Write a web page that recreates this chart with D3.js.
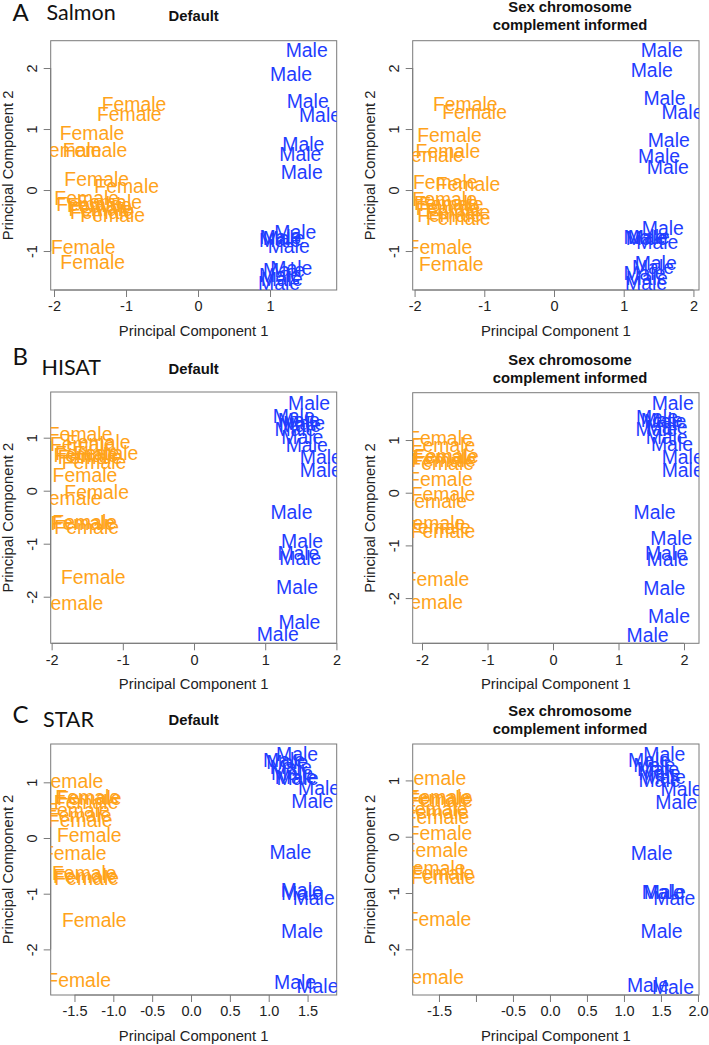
<!DOCTYPE html>
<html>
<head>
<meta charset="utf-8">
<script src="https://cdn.jsdelivr.net/npm/d3@7"></script>
<style>
  html, body { margin: 0; padding: 0; background: #ffffff; }
  svg { display: block; }
</style>
</head>
<body>
<script>
// ---------------- DATA (PC1, PC2) ----------------
const salmonDefFemale = [[-0.889,1.404],[-0.954,1.246],[-1.472,0.940],[-1.787,0.656],[-1.430,0.656],[-1.407,0.180],[-0.991,0.066],[-1.546,-0.137],[-1.227,-0.190],[-1.370,-0.246],[-1.520,-0.230],[-1.350,-0.317],[-1.185,-0.415],[-1.330,-0.355],[-1.593,-0.929],[-1.463,-1.186]];
const salmonDefMale = [[1.509,2.295],[1.292,1.900],[1.523,1.464],[1.694,1.230],[1.463,0.754],[1.421,0.590],[1.440,0.300],[1.352,-0.683],[1.144,-0.776],[1.190,-0.790],[1.259,-0.918],[1.140,-0.820],[1.296,-1.273],[1.194,-1.311],[1.140,-1.393],[1.162,-1.464],[1.125,-1.519]];
const salmonSexFemale = [[-1.273,1.404],[-1.139,1.273],[-1.498,0.902],[-1.522,0.645],[-1.756,0.574],[-1.560,0.136],[-1.234,0.098],[-1.569,-0.147],[-1.545,-0.207],[-1.474,-0.230],[-1.378,-0.355],[-1.498,-0.410],[-1.373,-0.464],[-1.520,-0.300],[-1.636,-0.929],[-1.474,-1.219]];
const salmonSexMale = [[1.545,2.295],[1.402,1.967],[1.584,1.514],[1.842,1.273],[1.646,0.820],[1.507,0.557],[1.632,0.383],[1.560,-0.628],[1.297,-0.765],[1.360,-0.776],[1.483,-0.847],[1.330,-0.780],[1.459,-1.202],[1.420,-1.257],[1.297,-1.366],[1.330,-1.448],[1.320,-1.519]];

const hisatDefFemale = [[-1.600,1.063],[-1.344,0.925],[-1.237,0.717],[-1.499,0.717],[-1.460,0.640],[-1.405,0.547],[-1.520,0.670],[-1.570,0.890],[-1.532,0.296],[-1.368,-0.019],[-1.752,-0.145],[-1.536,-0.585],[-1.508,-0.679],[-1.560,-0.616],[-1.415,-1.635],[-1.728,-2.126]];
const hisatDefMale = [[1.616,1.660],[1.400,1.409],[1.546,1.270],[1.470,1.330],[1.424,1.164],[1.522,1.019],[1.583,0.862],[1.780,0.642],[1.780,0.390],[1.490,1.240],[1.368,-0.409],[1.518,-0.943],[1.466,-1.170],[1.494,-1.277],[1.447,-1.811],[1.480,-2.472],[1.176,-2.711]];
const hisatSexFemale = [[-1.719,1.044],[-1.679,0.905],[-1.628,0.700],[-1.700,0.557],[-1.650,0.680],[-1.670,0.620],[-1.719,0.259],[-1.679,-0.025],[-1.806,-0.152],[-1.832,-0.570],[-1.750,-0.646],[-1.679,-0.728],[-1.770,-1.646],[-1.867,-2.070]];
const hisatSexMale = [[1.827,1.709],[1.587,1.430],[1.714,1.367],[1.735,1.253],[1.582,1.203],[1.735,1.050],[1.816,0.918],[1.980,0.684],[1.980,0.430],[1.660,1.380],[1.551,-0.373],[1.806,-0.867],[1.724,-1.139],[1.750,-1.266],[1.699,-1.804],[1.770,-2.335],[1.444,-2.703]];

const starDefFemale = [[-1.545,1.024],[-1.309,0.713],[-1.330,0.740],[-1.350,0.650],[-1.438,0.413],[-1.425,0.323],[-1.460,0.500],[-1.309,0.048],[-1.502,-0.263],[-1.373,-0.623],[-1.343,-0.725],[-1.360,-0.680],[-1.245,-1.473],[-1.446,-2.551]];
const starDefMale = [[1.365,1.509],[1.197,1.401],[1.240,1.370],[1.283,1.269],[1.300,1.174],[1.348,1.102],[1.370,1.070],[1.648,0.892],[1.562,0.671],[1.279,-0.257],[1.425,-0.934],[1.579,-1.084],[1.430,-0.980],[1.429,-1.665],[1.339,-2.581],[1.627,-2.659]];
const starSexFemale = [[-1.568,1.036],[-1.486,0.710],[-1.510,0.680],[-1.477,0.651],[-1.532,0.444],[-1.527,0.355],[-1.550,0.500],[-1.486,0.059],[-1.540,-0.237],[-1.577,-0.562],[-1.441,-0.710],[-1.460,-0.650],[-1.500,-1.462],[-1.599,-2.485]];
const starSexMale = [[1.545,1.467],[1.338,1.361],[1.410,1.270],[1.459,1.195],[1.480,1.124],[1.550,1.053],[1.480,1.006],[1.779,0.846],[1.707,0.621],[1.374,-0.284],[1.523,-0.976],[1.550,-0.976],[1.680,-1.095],[1.509,-1.669],[1.324,-2.633],[1.662,-2.663]];

// tick values
const ticksInt2 = [-2, -1, 0, 1];
const ticksInt22 = [-2, -1, 0, 1, 2];
const ticksYA = [-1, 0, 1, 2];
const ticksYBC = [-2, -1, 0, 1];
const ticksXCLeft = [-1.5, -1.0, -0.5, 0.0, 0.5, 1.0, 1.5];
const ticksXCRight = [-1.5, -1.0, -0.5, 0.0, 0.5, 1.0, 1.5, 2.0];
const hiddenTickLabelsCRight = [-1.0];

// text
const rowLetters = ["A", "B", "C"];
const rowMethods = ["Salmon", "HISAT", "STAR"];
const titleLeft = "Default";
const titleRight = ["Sex chromosome", "complement informed"];
const xLabel = "Principal Component 1";
const yLabel = "Principal Component 2";
const femaleLabel = "Female";
const maleLabel = "Male";

// ---------------- LAYOUT ----------------
const W = 709, H = 1045;
const FEMALE_COL = "#ffa31a";
const MALE_COL = "#1f3dff";
const FRAME_COL = "#7a7a7a";
const FONT = "'Liberation Sans', Arial, Helvetica, sans-serif";

const panels = [
  { fem: salmonDefFemale, male: salmonDefMale, box: [50.7, 336.7, 40.7, 290], xd: [-2.046, 1.926], yd: [-1.639, 2.448], xt: ticksInt2, yt: ticksYA, fmt: "int", side: "L", titleY: [21] },
  { fem: salmonSexFemale, male: salmonSexMale, box: [412.7, 699, 40.7, 290], xd: [-2.027, 2.080], yd: [-1.639, 2.448], xt: ticksInt22, yt: ticksYA, fmt: "int", side: "R", titleY: [12, 29.6] },
  { fem: hisatDefFemale, male: hisatDefMale, box: [50.7, 336.7, 392, 643.3], xd: [-2.013, 2.004], yd: [-2.879, 1.862], xt: ticksInt22, yt: ticksYBC, fmt: "int", side: "L", titleY: [374] },
  { fem: hisatSexFemale, male: hisatSexMale, box: [412.7, 699, 392.7, 643.3], xd: [-2.142, 2.229], yd: [-2.858, 1.898], xt: ticksInt22, yt: ticksYBC, fmt: "int", side: "R", titleY: [365, 383] },
  { fem: starDefFemale, male: starDefMale, box: [50.7, 336.7, 744, 995], xd: [-1.806, 1.875], yd: [-2.819, 1.688], xt: ticksXCLeft, yt: ticksYBC, fmt: "dec", side: "L", titleY: [725] },
  { fem: starSexFemale, male: starSexMale, box: [412.7, 699, 744, 995], xd: [-1.855, 2.014], yd: [-2.812, 1.647], xt: ticksXCRight, yt: ticksYBC, fmt: "dec", side: "R", titleY: [716, 734], hide: hiddenTickLabelsCRight }
];

const rowHeads = [
  { letterX: 12.5, letterY: 20.5, methX: 46.5, methY: 20 },
  { letterX: 12.5, letterY: 365, methX: 41.5, methY: 375 },
  { letterX: 12.5, letterY: 723, methX: 43, methY: 727 }
];

const svg = d3.select("body").append("svg").attr("width", W).attr("height", H)
  .attr("font-family", FONT);
svg.append("rect").attr("width", W).attr("height", H).attr("fill", "#fff");

// row headers
rowHeads.forEach((r, i) => {
  svg.append("text").attr("x", r.letterX).attr("y", r.letterY)
    .attr("font-family", "Lato, 'Open Sans', sans-serif").attr("font-size", 24)
    .attr("fill", "#111").text(rowLetters[i]);
  svg.append("text").attr("x", r.methX).attr("y", r.methY)
    .attr("font-family", "Lato, 'Open Sans', sans-serif").attr("font-size", 21.5)
    .attr("fill", "#111").text(rowMethods[i]);
});

panels.forEach((p, i) => {
  const [L, R, T, B] = p.box;
  const x = d3.scaleLinear().domain(p.xd).range([L, R]);
  const y = d3.scaleLinear().domain(p.yd).range([B, T]);
  const g = svg.append("g");
  const xfmt = p.fmt === "int" ? (d => String(d)) : (d => (p.hide && p.hide.includes(d)) ? "" : d.toFixed(1));
  const yfmt = d => String(d);

  // clip
  const cid = "clip" + i;
  svg.append("clipPath").attr("id", cid).append("rect")
    .attr("x", L).attr("y", T).attr("width", R - L).attr("height", B - T);

  // x axis
  const xa = g.append("g").attr("transform", `translate(0,${B})`)
    .call(d3.axisBottom(x).tickValues(p.xt).tickFormat(xfmt).tickSize(7).tickPadding(3).tickSizeOuter(0));
  xa.select(".domain").attr("stroke", FRAME_COL)
    .attr("d", `M${x(p.xt[0])},0H${x(p.xt[p.xt.length - 1])}`);
  xa.selectAll(".tick line").attr("stroke", FRAME_COL);
  xa.selectAll(".tick text").attr("font-family", FONT).attr("font-size", 14.5).attr("fill", "#222")
    .attr("y", 11).attr("dy", "0.71em");

  // y axis
  const ya = g.append("g").attr("transform", `translate(${L},0)`)
    .call(d3.axisLeft(y).tickValues(p.yt).tickFormat(yfmt).tickSize(7).tickSizeOuter(0));
  ya.select(".domain").attr("stroke", FRAME_COL)
    .attr("d", `M0,${y(p.yt[0])}V${y(p.yt[p.yt.length - 1])}`);
  ya.selectAll(".tick line").attr("stroke", FRAME_COL);
  ya.selectAll(".tick text").attr("font-family", FONT).attr("font-size", 14.5).attr("fill", "#222")
    .attr("x", null).attr("dy", null)
    .attr("text-anchor", "middle")
    .attr("transform", "translate(-19,0) rotate(-90)")
    .attr("y", 0).attr("dy", "0.35em");

  // frame
  g.append("rect").attr("x", L).attr("y", T).attr("width", R - L).attr("height", B - T)
    .attr("fill", "none").attr("stroke", FRAME_COL).attr("stroke-width", 1);

  // labels
  const pts = g.append("g").attr("clip-path", `url(#${cid})`)
    .attr("font-family", FONT).attr("font-size", 19.4).attr("text-anchor", "middle");
  pts.selectAll("text.f").data(p.fem).join("text").attr("class", "f")
    .attr("x", d => x(d[0])).attr("y", d => y(d[1])).attr("dy", "0.36em")
    .attr("fill", FEMALE_COL).text(femaleLabel);
  pts.selectAll("text.m").data(p.male).join("text").attr("class", "m")
    .attr("x", d => x(d[0])).attr("y", d => y(d[1])).attr("dy", "0.36em")
    .attr("fill", MALE_COL).text(maleLabel);

  // axis titles
  g.append("text").attr("x", (L + R) / 2).attr("y", B + 46).attr("text-anchor", "middle")
    .attr("font-size", 14.8).attr("fill", "#222").text(xLabel);
  g.append("text").attr("transform", `translate(${L - 43},${(T + B) / 2}) rotate(-90)`)
    .attr("text-anchor", "middle").attr("dy", "0.35em")
    .attr("font-size", 14.8).attr("fill", "#222").text(yLabel);

  // panel titles
  if (p.side === "L") {
    g.append("text").attr("x", (L + R) / 2).attr("y", p.titleY[0]).attr("text-anchor", "middle")
      .attr("font-weight", "bold").attr("font-size", 14.8).attr("fill", "#111").text(titleLeft);
  } else {
    titleRight.forEach((t, k) => {
      g.append("text").attr("x", 570).attr("y", p.titleY[k]).attr("text-anchor", "middle")
        .attr("font-weight", "bold").attr("font-size", 14.8).attr("fill", "#111").text(t);
    });
  }
});
</script>
</body>
</html>
